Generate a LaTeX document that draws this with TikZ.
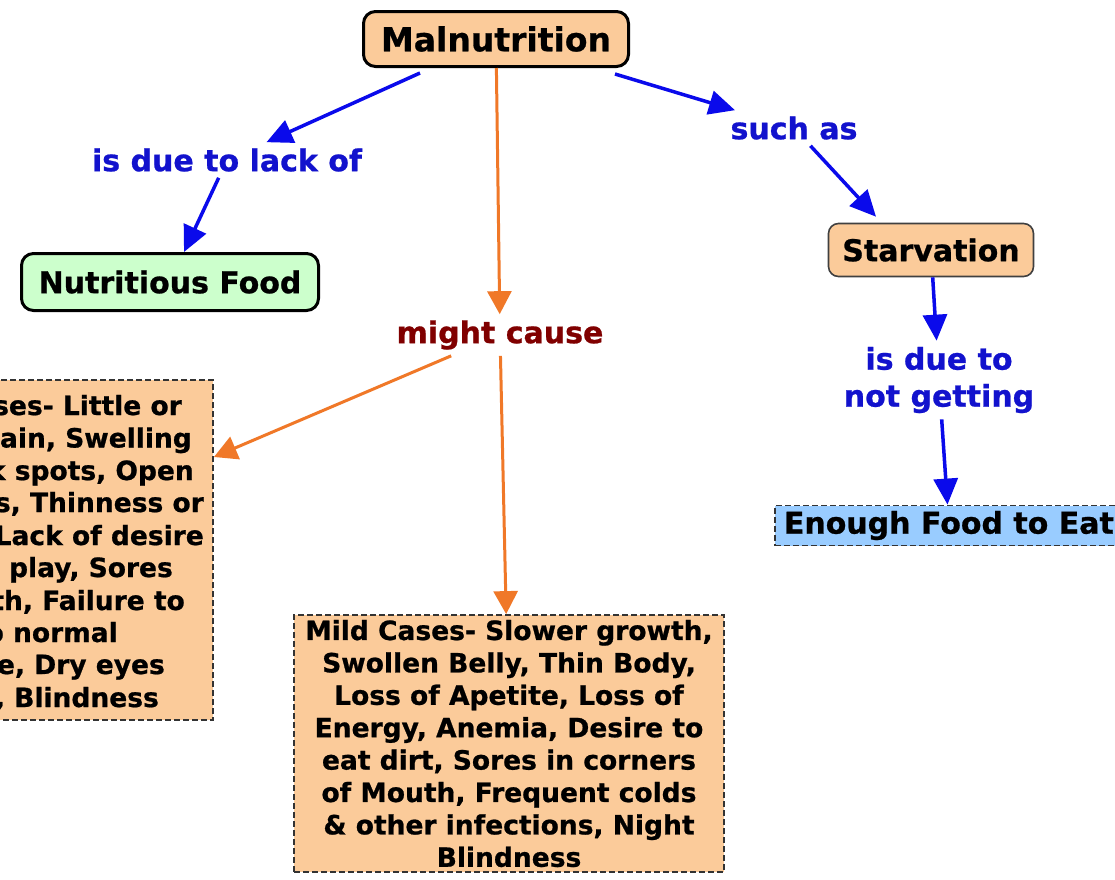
\documentclass[tikz,border=0pt]{standalone}
\usepackage{fontspec}
\setmainfont{DejaVu Sans}[BoldFeatures={FakeBold=0.8}]
\usetikzlibrary{arrows.meta}
\definecolor{peach}{RGB}{251,203,154}
\definecolor{mint}{RGB}{204,255,204}
\definecolor{sky}{RGB}{153,204,255}
\definecolor{lblue}{RGB}{18,18,205}
\definecolor{ablue}{RGB}{10,10,235}
\definecolor{aorange}{RGB}{240,120,40}
\definecolor{maroon}{RGB}{128,0,0}
\tikzset{
  concept/.style={draw=black, line width=3pt, rounded corners=12pt, inner sep=0pt},
  softbox/.style={draw=black!75, line width=1.6pt, rounded corners=10pt, inner sep=0pt, fill=peach},
  dashbox/.style={draw=black!80, line width=1.8pt, dash pattern=on 6pt off 3pt, fill=peach, inner sep=0pt},
  linklabel/.style={text=lblue, inner sep=6pt, align=center, font=\fontsize{30}{37}\selectfont\bfseries},
  body/.style={font=\fontsize{26.5}{32.4}\selectfont\bfseries},
  frag/.style={body, inner sep=0pt, anchor=base east},
  bluearrow/.style={draw=ablue, line width=3.5pt, -{Triangle[length=26pt,width=24pt]}},
  orangearrow/.style={draw=aorange, line width=3pt, -{Triangle[length=23pt,width=24pt]}},
}
\begin{document}
\begin{tikzpicture}[x=1pt,y=-1pt]
\useasboundingbox (0,0) rectangle (1115,879);
\clip (0,0) rectangle (1115,879);
\fill[white] (0,0) rectangle (1115,879);

% concepts
\node[concept, fill=peach, minimum width=265pt, minimum height=55pt,
      font=\fontsize{33}{40}\selectfont\bfseries] (mal) at (496,39) {Malnutrition};
\node[concept, fill=mint, minimum width=297pt, minimum height=57pt,
      font=\fontsize{30}{37}\selectfont\bfseries] (nut) at (170,282) {Nutritious Food};
\node[softbox, minimum width=205pt, minimum height=53pt,
      font=\fontsize{30}{37}\selectfont\bfseries] (starv) at (931,250) {Starvation};
\node[dashbox, fill=sky, anchor=west, inner xsep=9pt, minimum height=40pt,
      font=\fontsize{30}{37}\selectfont\bfseries] (enough) at (774,525.5) {Enough Food to Eat};

% link labels
\node[linklabel] (lack) at (227,160) {is due to lack of};
\node[linklabel] (such) at (794,128) {such as};
\node[linklabel, text=maroon] (might) at (500,335) {might cause};
\node[linklabel] (due) at (939,380) {is due to\\not getting};

% dashed boxes
\node[dashbox, minimum width=300pt, minimum height=340pt] (severe) at (63,550) {};
\node[frag] (s1) at (182,415) {ses- Little or};
\node[frag] (s2) at (192,447.5) {ain, Swelling};
\node[frag] (s3) at (194,480) {k spots, Open};
\node[frag] (s4) at (204,512) {s, Thinness or};
\node[frag] (s5) at (204,545) {Lack of desire};
\node[frag] (s6) at (173,577) {play, Sores};
\node[frag] (s7) at (185,610) {th, Failure to};
\node[frag] (s8) at (118,642) {o normal};
\node[frag] (s9) at (165,674) {e, Dry eyes};
\node[frag] (s10) at (159,707) {, Blindness};

\node[dashbox, body, align=center, minimum width=430pt, minimum height=257pt] (mild) at (509,743.5)
 {Mild Cases- Slower growth,\\Swollen Belly, Thin Body,\\Loss of Apetite, Loss of\\Energy, Anemia, Desire to\\eat dirt, Sores in corners\\of Mouth, Frequent colds\\\& other infections, Night\\Blindness};

% connectors
\draw[bluearrow] ([xshift=-76pt,yshift=-5pt]mal.south) -- (lack);
\draw[bluearrow] (lack) -- (nut);
\draw[bluearrow] ([xshift=-15pt,yshift=-6pt]mal.south east) -- (such);
\draw[bluearrow] (such) -- ([xshift=-55pt,yshift=6pt]starv.north);
\draw[bluearrow] (starv) -- (due);
\draw[bluearrow] (due) -- (enough);
\draw[orangearrow] (mal) -- (might);
\draw[orangearrow] (might) -- ([yshift=93pt]severe.east);
\draw[orangearrow] (might) -- (mild);
\end{tikzpicture}
\end{document}
